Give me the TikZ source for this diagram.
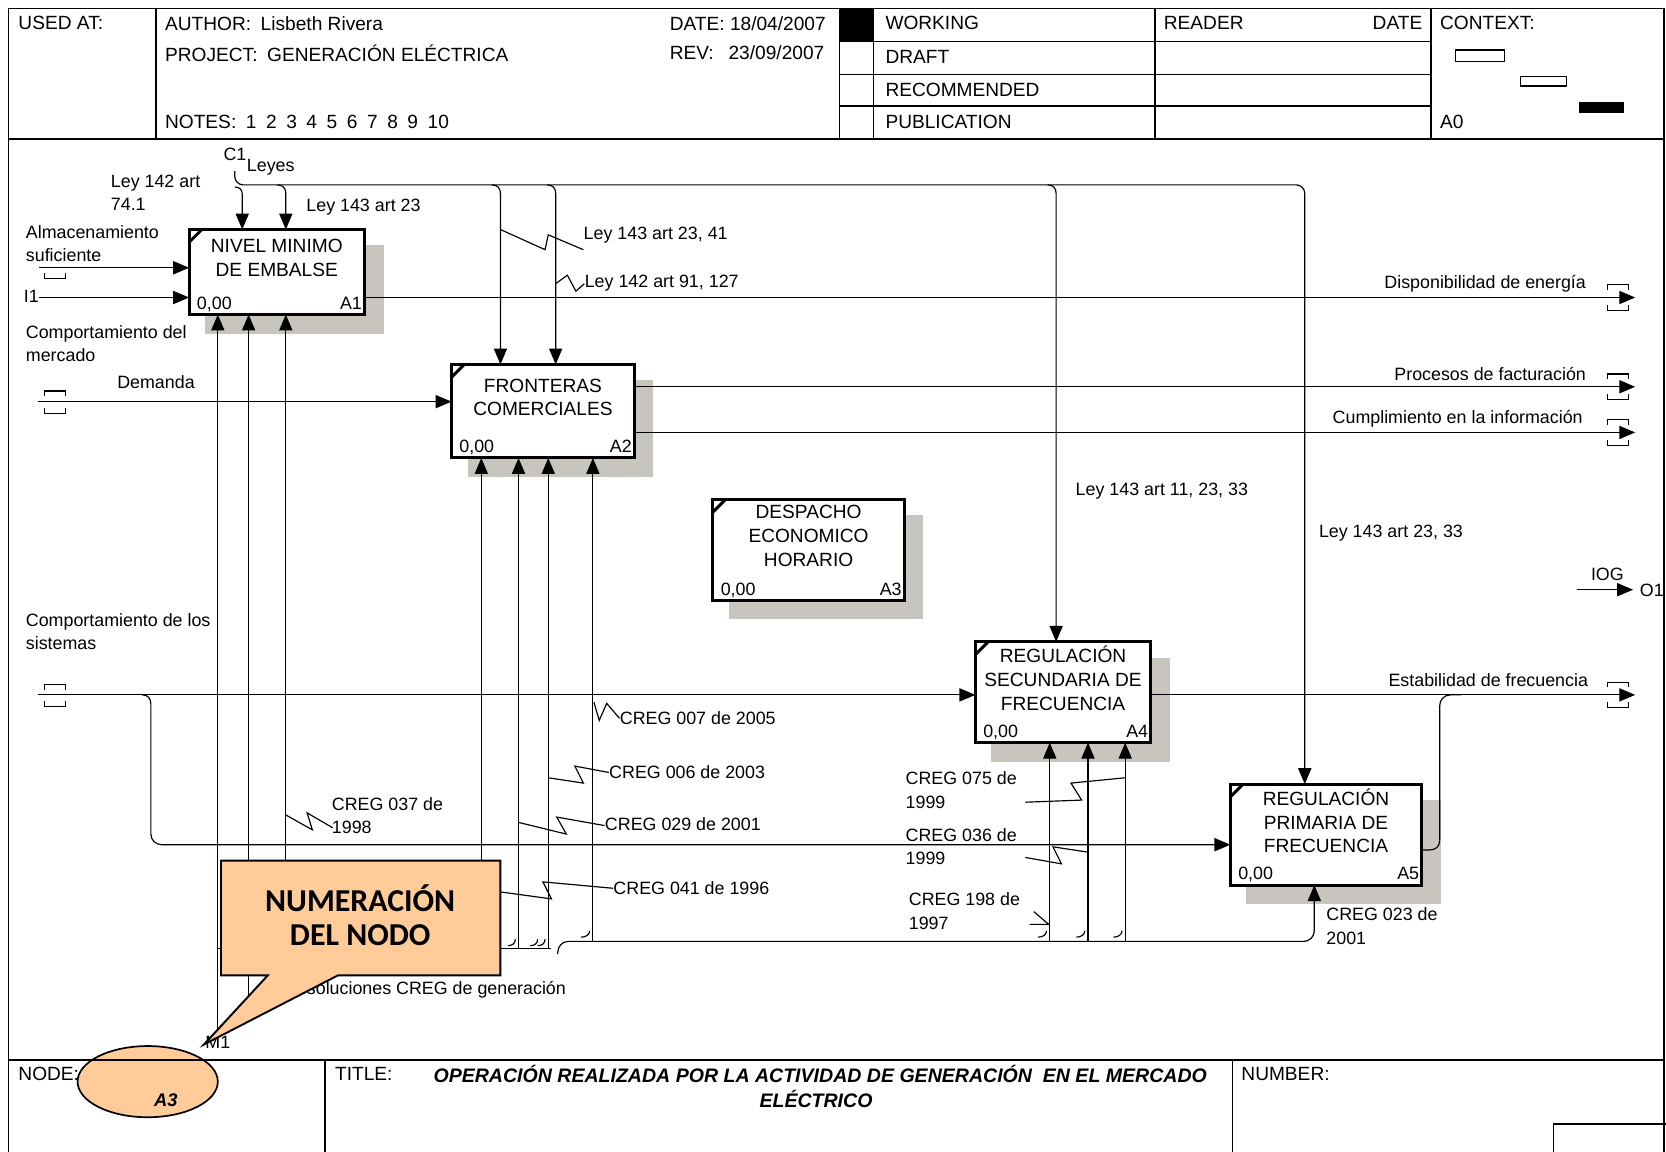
\documentclass[tikz,border=0pt]{standalone}
\usepackage{fontspec}
\setmainfont{Liberation Sans}
\newfontfamily\calfont{Carlito}
\usetikzlibrary{arrows.meta,calc,shapes.geometric}
\definecolor{peach}{RGB}{255,204,153}
\definecolor{shad}{RGB}{200,197,190}
\newcommand\actbox[7]{%
  \pgfmathsetmacro\bw{(#4-#2)*0.5}\pgfmathsetmacro\bh{(#5-#3)*0.5}%
  \fill[shad] (#2+15,#3+15) rectangle (#4+18,#5+18);
  \node[act, minimum width=\bw pt, minimum height=\bh pt] (#1) at (#2,#3) {};
  \draw[line width=1.4pt] ($(#1.north west)+(0,12)$) -- ($(#1.north west)+(12,0)$);
  \node[btxt] at ($(#1.center)+(0,-13)$) {#6};
  \node[ntxt, anchor=base west] at ($(#1.south west)+(7,-5)$) {0,00};
  \node[ntxt, anchor=base east] at ($(#1.south east)+(-2,-5)$) {#7};
}
\begin{document}
\begin{tikzpicture}[x=0.5pt,y=-0.5pt,
 ln/.style={line width=0.55pt},
 arr/.style={line width=0.55pt,-{Triangle[length=7.5pt,width=6.2pt]}},
 frm/.style={line width=0.75pt},
 act/.style={draw,line width=1.4pt,fill=white,inner sep=0pt,outer sep=0pt,anchor=north west},
 btxt/.style={font=\fontsize{9}{11.25}\selectfont,align=center,inner sep=0pt},
 ntxt/.style={font=\fontsize{8.4}{10}\selectfont,inner sep=0pt},
 lbl/.style={font=\fontsize{8.4}{11}\selectfont,inner sep=0pt,align=left},
 hdr/.style={font=\fontsize{9}{11}\selectfont,inner sep=0pt,anchor=west}]
\useasboundingbox (0,0) rectangle (1568,1084);
\fill[white] (0,0) rectangle (1568,1084);
% ---------- frame ----------
\draw[frm] (8,1090) -- (8,8) -- (1566,8) -- (1566,1090);
\draw[line width=0.9pt] (8,131) -- (1566,131);
\foreach \xx in {147,790,822,1087,1347} \draw[frm] (\xx,8) -- (\xx,131);
\foreach \yy in {39,70,100} \draw[frm] (790,\yy) -- (1347,\yy);
\fill (790,8) rectangle (822,39);
\draw[ln] (1370,47) rectangle (1416,58);
\draw[ln] (1431,72) rectangle (1474,81);
\fill (1486,96) rectangle (1528,106);
\node[hdr] (usedat) at (17,22) {USED AT:};
\node[hdr] (author) at (155,22) {AUTHOR:\enspace Lisbeth Rivera};
\node[hdr] (date) at (630,22) {DATE: 18/04/2007};
\node[hdr] (project) at (155,50) {PROJECT:\enspace GENERACIÓN ELÉCTRICA};
\node[hdr] (rev) at (630,50) {REV:\enspace\ 23/09/2007};
\node[hdr] (notes) at (155,115) {NOTES:\enspace 1\enspace 2\enspace 3\enspace 4\enspace 5\enspace 6\enspace 7\enspace 8\enspace 9\enspace 10};
\node[hdr] (working) at (833,22) {WORKING};
\node[hdr] (draft) at (833,54) {DRAFT};
\node[hdr] (recom) at (833,85) {RECOMMENDED};
\node[hdr] (public) at (833,115) {PUBLICATION};
\node[hdr] (reader) at (1095,22) {READER};
\node[hdr,anchor=east] (rdate) at (1339,22) {DATE};
\node[hdr] (context) at (1355,22) {CONTEXT:};
\node[hdr] (a0) at (1355,115) {A0};
% ---------- boxes ----------
\actbox{A1}{178}{216}{343}{296}{NIVEL MINIMO\\DE EMBALSE}{A1}
\actbox{A2}{425}{343}{597}{431}{FRONTERAS\\COMERCIALES}{A2}
\actbox{A3}{671}{470}{851}{565}{DESPACHO\\ECONOMICO\\HORARIO}{A3}
\actbox{A4}{918}{604}{1083}{699}{REGULACIÓN\\SECUNDARIA DE\\FRECUENCIA}{A4}
\actbox{A5}{1158}{738}{1338}{833}{REGULACIÓN\\PRIMARIA DE\\FRECUENCIA}{A5}
% ---------- controls ----------
\coordinate (c1) at (221,161);
\draw[arr,rounded corners=4pt] (c1) -- (221,174) -- (1228,174) -- (1228,0 |- A5.north);
\draw[arr] (221,176) .. controls (225,176) and (228,178) .. (228,183) -- (228,0 |- A1.north);
\draw[arr] (261,174) .. controls (266,174) and (269,177) .. (269,182) -- (269,0 |- A1.north);
\draw[arr] (463,174) .. controls (468,174) and (471,177) .. (471,182) -- (471,0 |- A2.north);
\draw[arr] (515,174) .. controls (520,174) and (523,177) .. (523,182) -- (523,0 |- A2.north);
\draw[arr] (986,174) .. controls (991,174) and (994,177) .. (994,182) -- (994,0 |- A4.north);
% ---------- inputs ----------
\coordinate (alm) at (37,252);
\draw[arr] (alm) -- (alm -| A1.west);
\draw[ln] (42,257) -- (42,262) -- (62,262) -- (62,257);
\coordinate (i1) at (37,280);
\draw[arr] (i1) -- (i1 -| A1.west);
\coordinate (dem) at (36,378);
\draw[arr] (dem) -- (dem -| A2.west);
\draw[ln] (42,373) -- (42,368) -- (62,368) -- (62,373);
\draw[ln] (42,384) -- (42,389) -- (62,389) -- (62,384);
\coordinate (sis) at (36,654);
\draw[arr] (sis) -- (sis -| A4.west);
\draw[ln] (42,649) -- (42,644) -- (62,644) -- (62,649);
\draw[ln] (42,660) -- (42,665) -- (62,665) -- (62,660);
\draw[ln] (134,654) .. controls (139,654) and (142,657) .. (142,663);
\draw[arr,rounded corners=5pt] (142,663) -- (142,795) -- (A5.west |- 0,795);
% ---------- outputs ----------
\coordinate (odisp) at (1539,280);
\draw[arr] (A1.east |- odisp) -- (odisp);
\coordinate (oproc) at (1539,364);
\draw[arr] (A2.east |- oproc) -- (oproc);
\coordinate (ocump) at (1539,407);
\draw[arr] (A2.east |- ocump) -- (ocump);
\coordinate (oestab) at (1539,654);
\draw[arr] (A4.east |- oestab) -- (oestab);
\foreach \yy in {280,364,407,654}{
  \draw[ln] (1513,\yy-7) -- (1513,\yy-12) -- (1533,\yy-12) -- (1533,\yy-7);
  \draw[ln] (1513,\yy+7) -- (1513,\yy+12) -- (1533,\yy+12) -- (1533,\yy+7);}
\draw[ln] (A5.east |- 0,800) -- (1345,800) .. controls (1351,800) and (1355,797) .. (1355,791);
\draw[ln,rounded corners=5pt] (1355,791) -- (1355,654) -- (1375,654);
\coordinate (iog) at (1484,555);
\coordinate (o1) at (1537,555);
\draw[arr] (iog) -- (o1);
% ---------- mechanisms ----------
\coordinate (m1) at (205,985);
\draw[arr] (m1) -- (205,0 |- A1.south);
\draw[arr] (234,960) -- (234,0 |- A1.south);
\draw[arr] (269,893) -- (269,0 |- A1.south);
\draw[ln] (205,893) -- (519,893);
\draw[arr] (453,893) -- (453,0 |- A2.south);
\draw[arr] (488,893) -- (488,0 |- A2.south);
\draw[arr] (516,893) -- (516,0 |- A2.south);
\draw[arr] (558,886) -- (558,0 |- A2.south);
\draw[arr,rounded corners=5pt] (525,898) -- (525,886) -- (1237,886) -- (1237,0 |- A5.south);
\draw[arr] (988,886) -- (988,0 |- A4.south);
\draw[arr] (1024,886) -- (1024,0 |- A4.south);
\draw[arr] (1059,886) -- (1059,0 |- A4.south);
\foreach \xx in {488,509,516}
  \draw[ln] (\xx-10,890) .. controls (\xx-6,890) and (\xx-3,888) .. (\xx-3,884);
\foreach \xx in {558,988,1024,1059}
  \draw[ln] (\xx-11,882) .. controls (\xx-7,882) and (\xx-3,880) .. (\xx-3,876);
% ---------- squiggles ----------
\draw[ln] (471,216) -- (513,235) -- (516,221) -- (549,235);
\draw[ln] (523,267) -- (534,259) -- (542,274) -- (550,267);
\draw[ln] (559,661) -- (564,678) -- (571,662) -- (583,676);
\draw[ln] (516,732) -- (549,737) -- (541,721) -- (573,727);
\draw[ln] (488,774) -- (533,785) -- (524,769) -- (569,777);
\draw[ln] (453,837) -- (519,846) -- (511,830) -- (577,836);
\draw[ln] (269,767) -- (294,781) -- (289,765) -- (313,779);
\draw[ln] (965,755) -- (1018,753) -- (1008,737) -- (1059,732);
\draw[ln] (965,807) -- (999,813) -- (991,797) -- (1024,802);
\draw[ln] (969,870) -- (987,870) -- (973,858);
% ---------- labels ----------
\node[lbl,anchor=west] (lc1) at (210,145) {C1};
\node[lbl,anchor=west] (lleyes) at (232,157) {Leyes};
\node[lbl,anchor=north west] (l1421) at (104,164) {Ley 142 art\\74.1};
\node[lbl,anchor=west] (l14323) at (288,195) {Ley 143 art 23};
\node[lbl,anchor=north west] (lalm) at (24,212) {Almacenamiento\\suficiente};
\node[lbl,anchor=west] (li1) at (22,279) {I1};
\node[lbl,anchor=north west] (lmerc) at (24,306) {Comportamiento del\\mercado};
\node[lbl,anchor=west] (ldem) at (110,360) {Demanda};
\node[lbl,anchor=north west] (lsis) at (24,577) {Comportamiento de los\\sistemas};
\node[lbl,anchor=west] (l2341) at (549,221) {Ley 143 art 23, 41};
\node[lbl,anchor=west] (l91) at (550,266) {Ley 142 art 91, 127};
\node[lbl,anchor=east] (ldisp) at (1493,267) {Disponibilidad de energía};
\node[lbl,anchor=east] (lproc) at (1493,352) {Procesos de facturación};
\node[lbl,anchor=east] (lcump) at (1490,394) {Cumplimiento en la información};
\node[lbl,anchor=west] (l112333) at (1012,462) {Ley 143 art 11, 23, 33};
\node[lbl,anchor=west] (l2333) at (1241,502) {Ley 143 art 23, 33};
\node[lbl,anchor=west] (liog) at (1497,541) {IOG};
\node[lbl,anchor=west] (lo1) at (1543,556) {O1};
\node[lbl,anchor=east] (lestab) at (1495,640) {Estabilidad de frecuencia};
\node[lbl,anchor=west] (l007) at (583,676) {CREG 007 de 2005};
\node[lbl,anchor=west] (l006) at (573,727) {CREG 006 de 2003};
\node[lbl,anchor=west] (l029) at (569,776) {CREG 029 de 2001};
\node[lbl,anchor=west] (l041) at (577,836) {CREG 041 de 1996};
\node[lbl,anchor=north west] (l037) at (312,750) {CREG 037 de\\1998};
\node[lbl,anchor=north west] (l075) at (852,726) {CREG 075 de\\1999};
\node[lbl,anchor=north west] (l036) at (852,779) {CREG 036 de\\1999};
\node[lbl,anchor=north west] (l198) at (855,840) {CREG 198 de\\1997};
\node[lbl,anchor=north west] (l023) at (1248,854) {CREG 023 de\\2001};
\node[lbl,anchor=east] (lres) at (533,932) {Resoluciones CREG de generación};
\node[lbl,anchor=west] (lm1) at (193,981) {M1};
% ---------- callout ----------
\filldraw[fill=peach,draw=black,line width=0.9pt] (208,810) -- (471,810) -- (471,918) -- (318,918) -- (192,983) -- (252,918) -- (208,918) -- cycle;
\node[font=\calfont\bfseries\fontsize{15}{16}\selectfont,align=center,inner sep=0pt] (callout) at (339,861) {NUMERACIÓN\\DEL NODO};
% ---------- footer ----------
\draw[frm] (306,998) -- (306,1090);
\draw[frm] (1160,998) -- (1160,1090);
\draw[frm] (1462,1090) -- (1462,1058) -- (1570,1058);
\node[hdr] (lnode) at (17,1011) {NODE:};
\node[hdr] (ltitle) at (315,1011) {TITLE:};
\node[hdr] (lnumber) at (1168,1011) {NUMBER:};
\node[font=\bfseries\itshape\fontsize{9.2}{11}\selectfont,inner sep=0pt] (title1) at (772,1011) {OPERACIÓN REALIZADA POR LA ACTIVIDAD DE GENERACIÓN\ \ EN EL MERCADO};
\node[font=\bfseries\itshape\fontsize{9.2}{11}\selectfont,inner sep=0pt] (title2) at (768,1034) {ELÉCTRICO};
\node[ellipse,draw,fill=peach,line width=0.8pt,minimum width=66pt,minimum height=33.5pt,inner sep=0pt] (nodeov) at (139,1018) {};
\node[font=\bfseries\itshape\fontsize{8.6}{10}\selectfont,inner sep=0pt] (na3) at (156,1035) {A3};
\draw[line width=0.9pt] (8,998) -- (1566,998);
\end{tikzpicture}
\end{document}
